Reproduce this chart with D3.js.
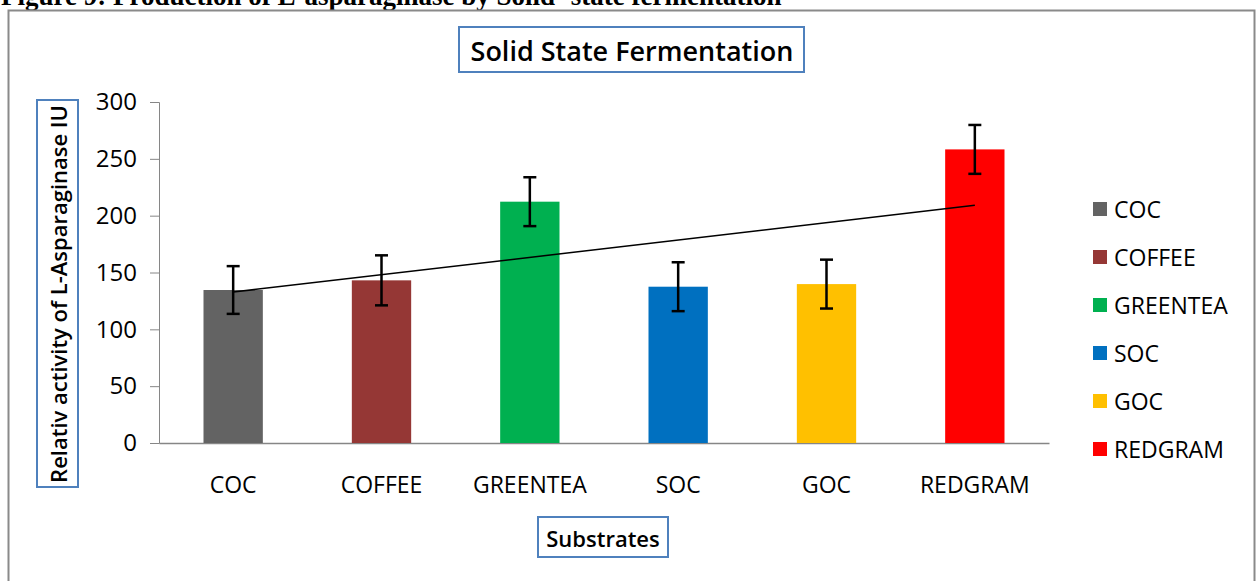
<html>
  <head>
    <meta charset="utf-8">
    <script src="https://d3js.org/d3.v7.min.js"></script>
    <style>
      body { margin: 0; background: #fff; }
      text { font-family: "Open Sans", sans-serif; }
    </style>
  </head>
  <body>
    <svg id="chart" width="1258" height="581"></svg>
    <script>
      // data
      var substrates = ["COC", "COFFEE", "GREENTEA", "SOC", "GOC", "REDGRAM"];
      var activity = [134.6, 143.1, 212.3, 137.5, 139.8, 258.3];
      var errors = [21, 22, 21.5, 21.5, 21.5, 21.5];
      var barColors = ["#636363", "#953735", "#00B050", "#0070C0", "#FFC000", "#FF0000"];
      var yTicks = [0, 50, 100, 150, 200, 250, 300];

      var svg = d3.select("#chart");
      var boxBlue = "#4F81BD";

      svg.append("rect").attr("width", 1258).attr("height", 581).attr("fill", "#fff");

      // caption, cut off at the top of the page as in the scan
      svg.append("text")
        .attr("x", 1).attr("y", 5)
        .style("font-family", "'Liberation Serif', serif")
        .style("font-weight", "bold")
        .style("font-size", "27px")
        .text("Figure 9: Production of L-asparaginase by Solid- state fermentation");

      // chart area border
      svg.append("rect")
        .attr("x", 8.5).attr("y", 10.5)
        .attr("width", 1246).attr("height", 620)
        .attr("fill", "#fff")
        .attr("stroke", "#8a8a8a")
        .attr("stroke-width", 2);

      var x = d3.scaleBand()
        .domain(substrates)
        .range([159, 1049])
        .paddingInner(0.6)
        .paddingOuter(0.3);

      var y = d3.scaleLinear()
        .domain([0, 300])
        .range([443, 102]);

      // y axis
      var yAxis = svg.append("g")
        .attr("transform", "translate(159,0)")
        .call(d3.axisLeft(y).tickValues(yTicks).tickSize(9).tickPadding(13));
      yAxis.select(".domain").attr("stroke", "#868686");
      yAxis.selectAll(".tick line").attr("stroke", "#868686");
      yAxis.selectAll(".tick text")
        .style("font-size", "24px")
        .attr("fill", "#000");

      // x axis
      var xAxis = svg.append("g")
        .attr("transform", "translate(0,443)")
        .call(d3.axisBottom(x).tickSize(0).tickPadding(34));
      xAxis.select(".domain").attr("stroke", "#868686").attr("stroke-width", 1.5);
      xAxis.selectAll(".tick text")
        .style("font-size", "23px")
        .attr("fill", "#000");

      // bars
      svg.append("g").selectAll("rect")
        .data(substrates)
        .join("rect")
        .attr("x", function(d) { return x(d); })
        .attr("y", function(d, i) { return y(activity[i]); })
        .attr("width", x.bandwidth())
        .attr("height", function(d, i) { return y(0) - y(activity[i]); })
        .attr("fill", function(d, i) { return barColors[i]; });

      // error bars
      var eb = svg.append("g").attr("stroke", "#000").attr("stroke-width", 2.5);
      substrates.forEach(function(d, i) {
        var cx = x(d) + x.bandwidth() / 2;
        var top = y(activity[i] + errors[i]), bot = y(activity[i] - errors[i]);
        eb.append("line").attr("x1", cx).attr("x2", cx).attr("y1", top).attr("y2", bot);
        eb.append("line").attr("x1", cx - 6.5).attr("x2", cx + 6.5).attr("y1", top).attr("y2", top);
        eb.append("line").attr("x1", cx - 6.5).attr("x2", cx + 6.5).attr("y1", bot).attr("y2", bot);
      });

      // linear trendline (least squares over category index)
      var n = activity.length;
      var mx = (n + 1) / 2, my = d3.mean(activity);
      var sxy = 0, sxx = 0;
      activity.forEach(function(v, i) {
        sxy += (i + 1 - mx) * (v - my);
        sxx += (i + 1 - mx) * (i + 1 - mx);
      });
      var slope = sxy / sxx, icpt = my - slope * mx;
      var first = substrates[0], last = substrates[n - 1];
      svg.append("line")
        .attr("x1", x(first) + x.bandwidth() / 2)
        .attr("y1", y(icpt + slope * 1))
        .attr("x2", x(last) + x.bandwidth() / 2)
        .attr("y2", y(icpt + slope * n))
        .attr("stroke", "#000")
        .attr("stroke-width", 1.5);

      // title box
      svg.append("rect")
        .attr("x", 459).attr("y", 27).attr("width", 345).attr("height", 45)
        .attr("fill", "#fff").attr("stroke", boxBlue).attr("stroke-width", 2);
      svg.append("text")
        .attr("x", 632).attr("y", 50)
        .attr("text-anchor", "middle")
        .attr("dominant-baseline", "central")
        .style("font-size", "27px")
        .style("font-weight", "600")
        .text("Solid State Fermentation");

      // y axis title box
      svg.append("rect")
        .attr("x", 37).attr("y", 100).attr("width", 41).attr("height", 387)
        .attr("fill", "#fff").attr("stroke", boxBlue).attr("stroke-width", 2);
      svg.append("text")
        .attr("transform", "translate(58,294) rotate(-90)")
        .attr("text-anchor", "middle")
        .attr("dominant-baseline", "central")
        .style("font-size", "22px")
        .style("font-weight", "600")
        .text("Relativ activity of L-Asparaginase IU");

      // x axis title box
      svg.append("rect")
        .attr("x", 538).attr("y", 517).attr("width", 130).attr("height", 40)
        .attr("fill", "#fff").attr("stroke", boxBlue).attr("stroke-width", 2);
      svg.append("text")
        .attr("x", 603).attr("y", 537.5)
        .attr("text-anchor", "middle")
        .attr("dominant-baseline", "central")
        .style("font-size", "22px")
        .style("font-weight", "600")
        .text("Substrates");

      // legend
      var lg = svg.append("g").selectAll("g")
        .data(substrates)
        .join("g")
        .attr("transform", function(d, i) { return "translate(1093," + (209 + i * 48) + ")"; });
      lg.append("rect")
        .attr("x", 0).attr("y", -7).attr("width", 14).attr("height", 14)
        .attr("fill", function(d, i) { return barColors[i]; });
      lg.append("text")
        .attr("x", 21).attr("y", 0)
        .attr("dominant-baseline", "central")
        .style("font-size", "23px")
        .text(function(d) { return d; });
    </script>
  </body>
</html>
